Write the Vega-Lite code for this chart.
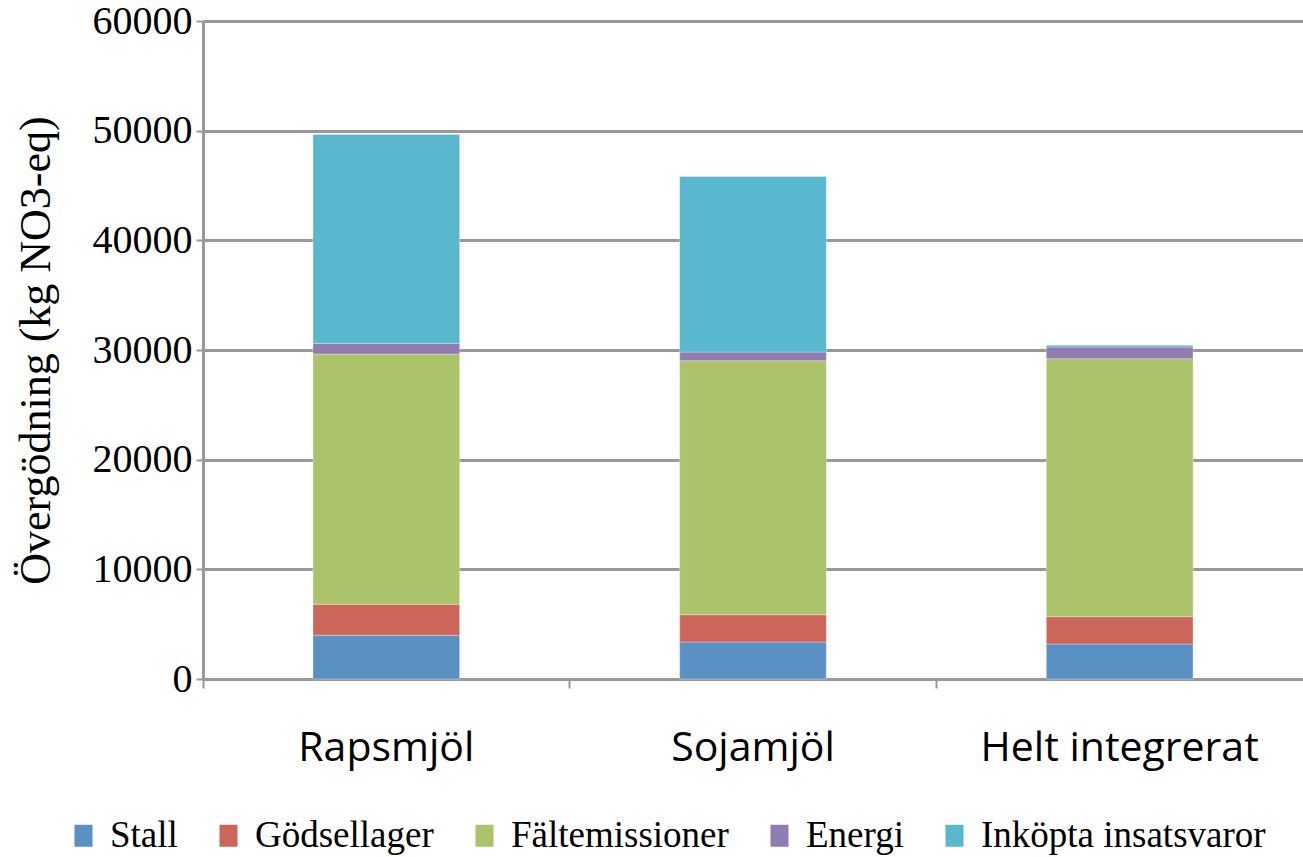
{
  "$schema": "https://vega.github.io/schema/vega-lite/v6.json",
  "width": 1100,
  "height": 658,
  "autosize": "none",
  "padding": {"left": 203, "top": 21, "right": 0, "bottom": 178},
  "background": "white",
  "data": {
    "values": [
      {"scenario": "Rapsmjöl", "kategori": "Stall", "ordning": 1, "varde": 3990},
      {"scenario": "Rapsmjöl", "kategori": "Gödsellager", "ordning": 2, "varde": 2820},
      {"scenario": "Rapsmjöl", "kategori": "Fältemissioner", "ordning": 3, "varde": 22820},
      {"scenario": "Rapsmjöl", "kategori": "Energi", "ordning": 4, "varde": 970},
      {"scenario": "Rapsmjöl", "kategori": "Inköpta insatsvaror", "ordning": 5, "varde": 19060},
      {"scenario": "Sojamjöl", "kategori": "Stall", "ordning": 1, "varde": 3370},
      {"scenario": "Sojamjöl", "kategori": "Gödsellager", "ordning": 2, "varde": 2490},
      {"scenario": "Sojamjöl", "kategori": "Fältemissioner", "ordning": 3, "varde": 23160},
      {"scenario": "Sojamjöl", "kategori": "Energi", "ordning": 4, "varde": 790},
      {"scenario": "Sojamjöl", "kategori": "Inköpta insatsvaror", "ordning": 5, "varde": 16020},
      {"scenario": "Helt integrerat", "kategori": "Stall", "ordning": 1, "varde": 3190},
      {"scenario": "Helt integrerat", "kategori": "Gödsellager", "ordning": 2, "varde": 2490},
      {"scenario": "Helt integrerat", "kategori": "Fältemissioner", "ordning": 3, "varde": 23530},
      {"scenario": "Helt integrerat", "kategori": "Energi", "ordning": 4, "varde": 1060},
      {"scenario": "Helt integrerat", "kategori": "Inköpta insatsvaror", "ordning": 5, "varde": 160}
    ]
  },
  "mark": {"type": "bar", "width": {"band": 0.4}, "stroke": "white", "strokeWidth": 0.5, "strokeOpacity": 0.6},
  "encoding": {
    "x": {
      "field": "scenario",
      "type": "nominal",
      "sort": ["Rapsmjöl", "Sojamjöl", "Helt integrerat"],
      "scale": {"paddingInner": 0, "paddingOuter": 0},
      "axis": {
        "title": null,
        "labelAngle": 0,
        "labelFont": "Open Sans",
        "labelFontSize": 41,
        "labelLimit": 500,
        "labelColor": "black",
        "labelPadding": 40,
        "bandPosition": 0,
        "tickColor": "#999999",
        "tickWidth": 2,
        "tickSize": 9,
        "domainColor": "#999999",
        "domainWidth": 3,
        "grid": false
      }
    },
    "y": {
      "field": "varde",
      "type": "quantitative",
      "stack": "zero",
      "scale": {"domain": [0, 60000], "nice": false},
      "axis": {
        "title": "Övergödning (kg NO3-eq)",
        "titleFont": "Liberation Serif",
        "titleFontSize": 44,
        "titleFontWeight": "normal",
        "titleColor": "black",
        "titlePadding": 34,
        "values": [0, 10000, 20000, 30000, 40000, 50000, 60000],
        "format": "d",
        "labelFont": "Liberation Serif",
        "labelFontSize": 40,
        "labelColor": "black",
        "labelPadding": 4,
        "tickColor": "#999999",
        "tickWidth": 2,
        "tickSize": 7,
        "domainColor": "#999999",
        "domainWidth": 3,
        "grid": true,
        "gridColor": "#999999",
        "gridWidth": 3
      }
    },
    "color": {
      "field": "kategori",
      "type": "nominal",
      "sort": ["Stall", "Gödsellager", "Fältemissioner", "Energi", "Inköpta insatsvaror"],
      "scale": {
        "domain": ["Stall", "Gödsellager", "Fältemissioner", "Energi", "Inköpta insatsvaror"],
        "range": ["#5B90C4", "#CC665A", "#ABC36A", "#917CB1", "#5AB8CE"]
      },
      "legend": {
        "title": null,
        "orient": "none",
        "legendX": -138,
        "legendY": 796,
        "direction": "horizontal",
        "columns": 5,
        "labelFont": "Liberation Serif",
        "labelFontSize": 37,
        "labelColor": "black",
        "labelLimit": 400,
        "symbolType": "M-0.82,-1H0.82V1H-0.82Z",
        "symbolSize": 484,
        "symbolStrokeWidth": 0,
        "labelOffset": 8,
        "columnPadding": 32
      }
    },
    "order": {"field": "ordning", "type": "quantitative"}
  },
  "config": {"view": {"stroke": null}}
}
